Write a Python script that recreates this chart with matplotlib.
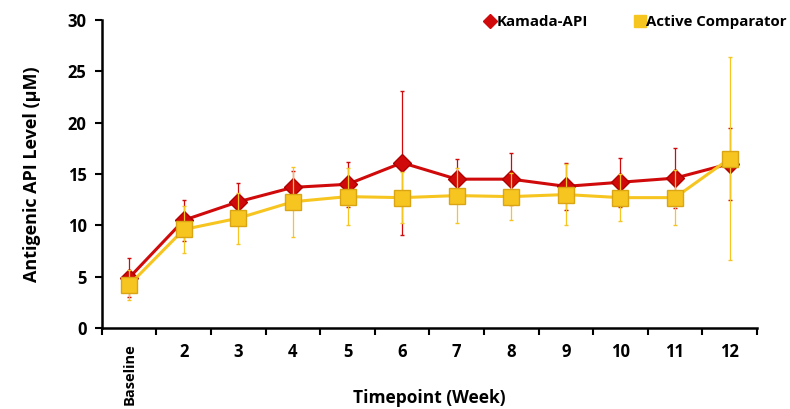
import matplotlib
matplotlib.use("Agg")
import matplotlib.pyplot as plt
import numpy as np
from matplotlib.lines import Line2D

categories = ["Baseline", "2", "3", "4", "5", "6", "7", "8", "9", "10", "11", "12"]
kamada = [4.9, 10.5, 12.3, 13.7, 14.0, 16.1, 14.5, 14.5, 13.8, 14.2, 14.6, 16.0]
kamada_err = [1.9, 2.0, 1.8, 1.6, 2.2, 7.0, 2.0, 2.5, 2.3, 2.4, 2.9, 3.5]
comparator = [4.2, 9.6, 10.7, 12.3, 12.8, 12.7, 12.9, 12.8, 13.0, 12.7, 12.7, 16.5]
comparator_err = [1.5, 2.3, 2.5, 3.4, 2.8, 2.5, 2.7, 2.3, 3.0, 2.3, 2.7, 9.9]

red = "#D00A0A"
yellow = "#F7C520"
yellow_edge = "#D9A514"

plt.rcParams['font.family'] = ['Open Sans', 'DejaVu Sans']
fig = plt.figure(figsize=(7.9, 4.09), dpi=100)
ax = fig.add_axes([0.129, 0.198, 0.829, 0.753])

x = np.arange(len(categories))
ax.errorbar(x, kamada, yerr=kamada_err, color=red, marker='D', markersize=9,
            linewidth=2.2, elinewidth=0.9, capsize=1.5, label="Kamada-API", zorder=3,
            markeredgecolor="#B00000")
ax.errorbar(x, comparator, yerr=comparator_err, color=yellow, marker='s', markersize=11,
            linewidth=2.2, elinewidth=0.9, capsize=1.5, label="Active Comparator", zorder=4,
            markeredgecolor=yellow_edge)

ax.set_xlim(-0.5, len(categories) - 0.5)
ax.set_ylim(0, 30)
ax.set_yticks([0, 5, 10, 15, 20, 25, 30])
ax.set_xticks(x)
ax.set_xticklabels(categories, fontsize=12, fontweight='bold')
base_lab = ax.get_xticklabels()[0]
base_lab.set_rotation(90)
base_lab.set_va('top')
base_lab.set_fontsize(10.5)
ax.set_xticks(np.arange(-0.5, len(categories), 1), minor=True)
ax.tick_params(axis='x', which='major', length=0, pad=11)
ax.tick_params(axis='x', which='minor', length=5, width=1.5, direction='out')
ax.tick_params(axis='y', length=5, width=1.5, direction='out', labelsize=12, pad=6)
for lab in ax.get_yticklabels():
    lab.set_fontweight('bold')

for s in ['top', 'right']:
    ax.spines[s].set_visible(False)
for s in ['left', 'bottom']:
    ax.spines[s].set_linewidth(1.8)

ax.set_ylabel("Antigenic API Level (\u03bcM)", fontsize=13, fontweight='bold')
ax.yaxis.set_label_coords(-0.093, 0.5)
ax.set_xlabel("Timepoint (Week)", fontsize=12.5, fontweight='bold', va='center')
ax.xaxis.set_label_coords(0.5, -0.228)

handles = [Line2D([], [], color=red, marker='D', markersize=7, linestyle='None'),
           Line2D([], [], color=yellow, marker='s', markersize=8, linestyle='None')]
leg = ax.legend(handles, ["Kamada-API", "Active Comparator"], loc='upper right',
                bbox_to_anchor=(1.066, 1.06), ncol=2, frameon=False, handlelength=0.6,
                handletextpad=0.1, columnspacing=3.2, prop={'weight': 'bold', 'size': 10.8})

fig.savefig("out.png", dpi=100)
